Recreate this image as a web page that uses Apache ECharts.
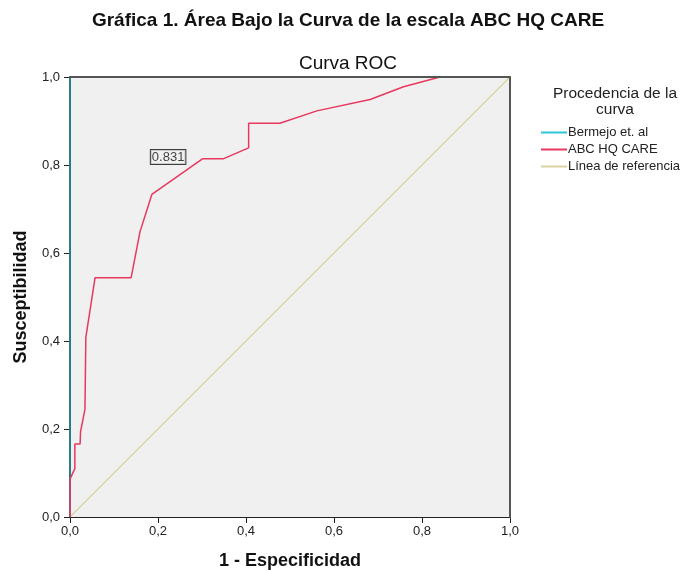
<!DOCTYPE html>
<html lang="es">
<head>
<meta charset="UTF-8">
<title>Curva ROC</title>
<script src="https://cdn.jsdelivr.net/npm/echarts@6.0.0/dist/echarts.min.js"></script>
<style>
  html, body { margin: 0; padding: 0; background: #fff; }
  #chart { width: 686px; height: 571px; }
</style>
</head>
<body>
<div id="chart"></div>
<script>
// Datos
const seriesNames = ['Bermejo et. al', 'ABC HQ CARE', 'Línea de referencia'];
const bermejoPoints = [[0, 0], [0, 1], [1, 1]];
const abcPoints = [
  [0, 0], [0, 0.086], [0.011, 0.11], [0.011, 0.166], [0.023, 0.166],
  [0.024, 0.194], [0.034, 0.245], [0.036, 0.408], [0.057, 0.544],
  [0.139, 0.544], [0.159, 0.648], [0.186, 0.733], [0.301, 0.814],
  [0.348, 0.814], [0.406, 0.839], [0.406, 0.895], [0.477, 0.895],
  [0.561, 0.923], [0.682, 0.949], [0.758, 0.978], [0.841, 1.0], [1, 1]
];
const referencePoints = [[0, 0], [1, 1]];
const aucLabelPos = [0.223, 0.818];
const aucText = '0.831';

const fmt = v => v.toFixed(1).replace('.', ',');
const font = '"Liberation Sans", Arial, sans-serif';

const chart = echarts.init(document.getElementById('chart'));

const axisCommon = {
  type: 'value',
  min: 0,
  max: 1,
  interval: 0.2,
  axisLine: { show: true, onZero: false, lineStyle: { color: '#222', width: 1 } },
  axisTick: { show: true, inside: false, length: 6, lineStyle: { color: '#222' } },
  axisLabel: { formatter: fmt, color: '#222', fontSize: 13, fontFamily: font },
  splitLine: { show: false },
  nameTextStyle: { color: '#111', fontSize: 18, fontWeight: 'bold', fontFamily: font }
};

// borde superior y derecho encima de las series
const frameAxis = {
  type: 'value', min: 0, max: 1, z: 10,
  axisLine: { show: true, onZero: false, lineStyle: { color: '#555', width: 2 } },
  axisTick: { show: false }, axisLabel: { show: false }, splitLine: { show: false }
};

chart.setOption({
  animation: false,
  title: [
    {
      text: 'Gráfica 1. Área Bajo la Curva de la escala ABC HQ CARE',
      left: 348, top: 11, textAlign: 'center', padding: 0,
      textStyle: { fontSize: 19, fontWeight: 'bold', color: '#111', fontFamily: font }
    },
    {
      text: 'Curva ROC',
      left: 348, top: 54, textAlign: 'center', padding: 0,
      textStyle: { fontSize: 19, fontWeight: 'normal', color: '#111', fontFamily: font }
    },
    {
      text: 'Procedencia de la\ncurva',
      left: 615, top: 86, textAlign: 'center', padding: 0,
      textStyle: { fontSize: 15.5, fontWeight: 'normal', color: '#222', fontFamily: font, lineHeight: 16, align: 'center' }
    }
  ],
  legend: {
    orient: 'vertical',
    left: 536, top: 121,
    itemWidth: 26, itemHeight: 2, itemGap: 4,
    icon: 'rect',
    data: seriesNames,
    textStyle: { fontSize: 13, color: '#222', fontFamily: font, padding: [0, 0, 0, -4] }
  },
  grid: {
    left: 70, right: 176, top: 77, bottom: 54,
    outerBoundsMode: 'none',
    show: true,
    backgroundColor: '#f0f0f0',
    borderWidth: 0
  },
  xAxis: [
    Object.assign({}, axisCommon, {
      name: '1 - Especificidad', nameLocation: 'middle', nameGap: 35,
      axisLabel: Object.assign({}, axisCommon.axisLabel, { margin: 8 })
    }),
    Object.assign({}, frameAxis, { position: 'top' })
  ],
  yAxis: [
    Object.assign({}, axisCommon, {
      name: 'Susceptibilidad', nameLocation: 'middle', nameGap: 40,
      axisLabel: Object.assign({}, axisCommon.axisLabel, { margin: 10 })
    }),
    Object.assign({}, frameAxis, { position: 'right' })
  ],
  series: [
    {
      name: seriesNames[2], type: 'line', data: referencePoints,
      symbol: 'none', color: '#d8d3a0', lineStyle: { width: 1.5, color: '#d8d3a0' }, z: 2
    },
    {
      name: seriesNames[0], type: 'line', data: bermejoPoints,
      symbol: 'none', color: '#2ec6d6', lineStyle: { width: 2, color: '#2a7d86' }, z: 3
    },
    {
      name: seriesNames[1], type: 'line', data: abcPoints,
      symbol: 'none', color: '#e8385e', lineStyle: { width: 1.5, color: '#e8385e' }, z: 4
    },
    {
      type: 'scatter', data: [aucLabelPos], symbolSize: 0, z: 5,
      label: {
        show: true, position: 'inside', formatter: aucText,
        fontSize: 13, color: '#111', fontFamily: font,
        backgroundColor: '#f0f0f0', borderColor: '#111', borderWidth: 1,
        padding: [1, 1, 0, 1]
      },
      tooltip: { show: false }
    }
  ]
});
</script>
</body>
</html>
